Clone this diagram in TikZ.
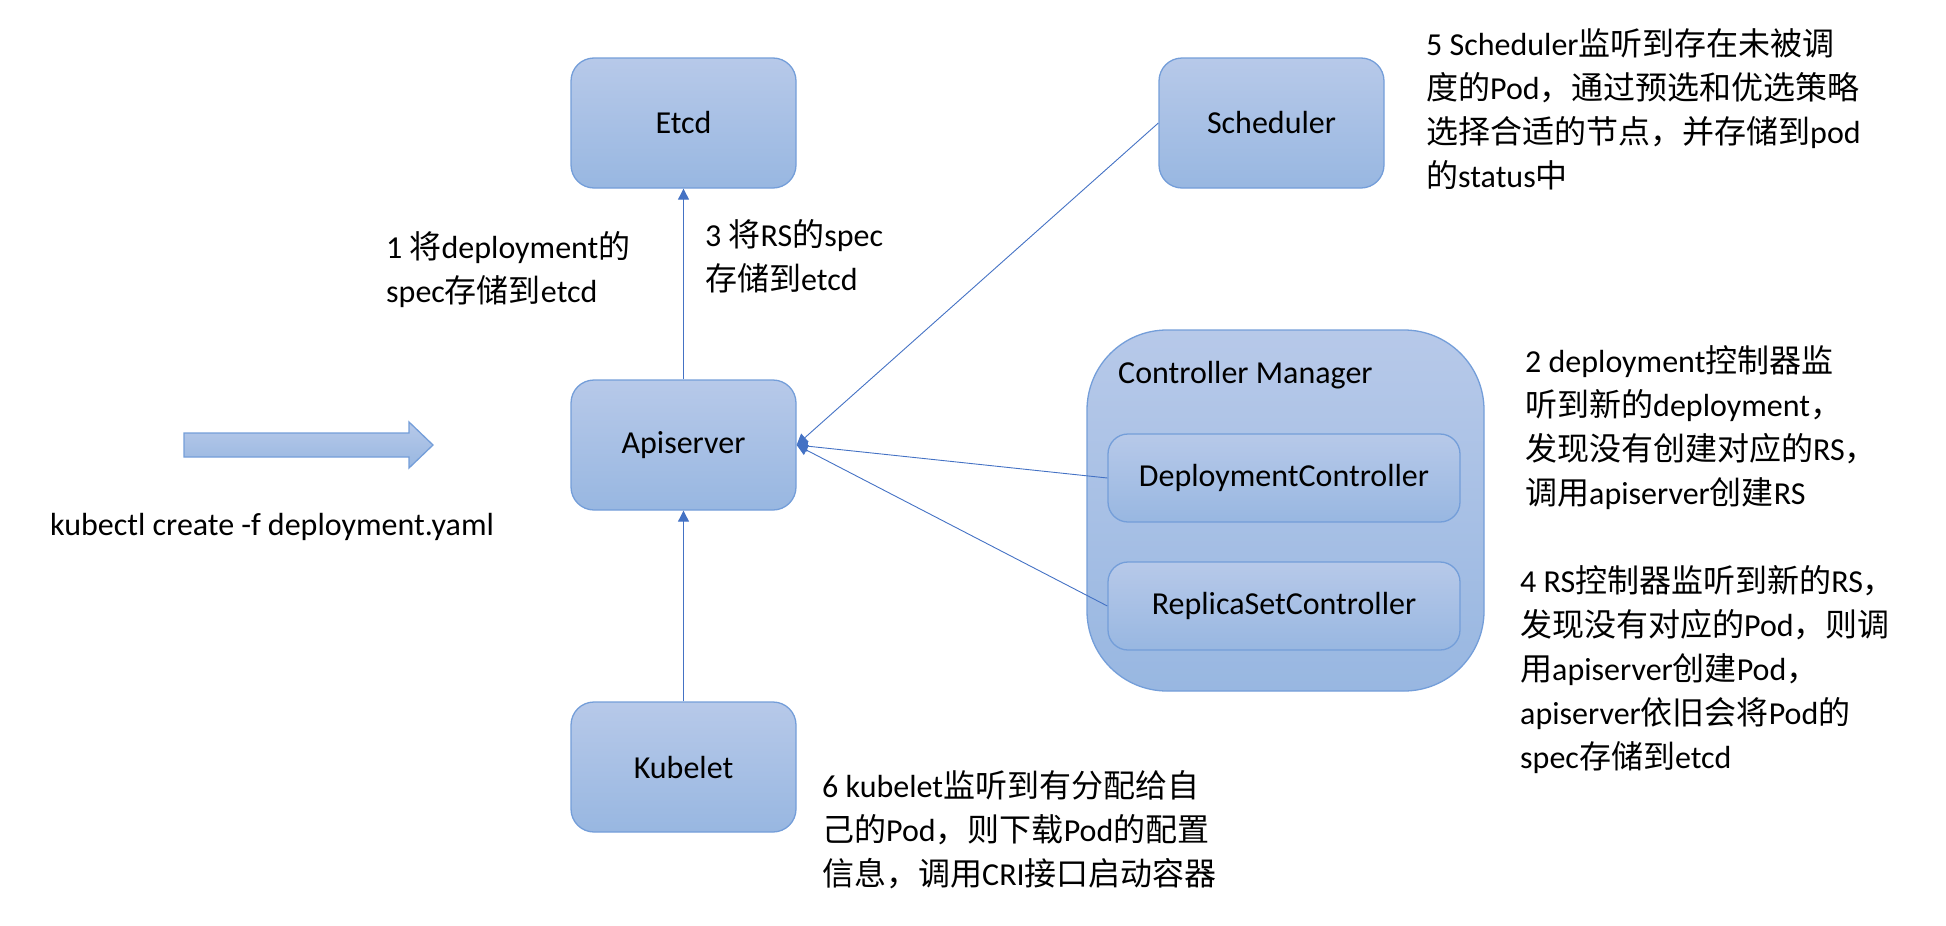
\documentclass[tikz,border=0pt]{standalone}
\usepackage{fontspec}
\setmainfont{Carlito}
\newfontfamily\cjkfont{Noto Sans CJK SC}
\newcommand\zh[1]{{\cjkfont #1}}
\usetikzlibrary{arrows.meta}
\definecolor{boxtop}{RGB}{183,201,233}
\definecolor{boxbot}{RGB}{152,183,225}
\definecolor{boxline}{RGB}{116,158,217}
\definecolor{linkc}{RGB}{68,114,196}
\begin{document}
\begin{tikzpicture}[x=1pt,y=-1pt,
  every node/.style={font=\fontsize{32}{44}\selectfont},
  compbox/.style={draw=boxline, line width=1.3pt, rounded corners=23pt,
    top color=boxtop, bottom color=boxbot, minimum width=225pt,
    minimum height=130pt, inner sep=0pt},
  subbox/.style={compbox, rounded corners=20pt, minimum width=352pt, minimum height=88pt},
  container/.style={compbox, rounded corners=80pt, minimum width=397pt, minimum height=361pt},
  note/.style={anchor=west, align=left, inner sep=0pt},
  link/.style={draw=linkc, line width=0.9pt, -{Triangle[length=11pt,width=11pt]}}
]
\useasboundingbox (0,0) rectangle (1946,926);
% big input arrow
\draw[draw=boxline, line width=1.3pt, top color=boxtop, bottom color=boxbot]
  (184,433) -- (409,433) -- (409,422) -- (433,445) -- (409,468) -- (409,457) -- (184,457) -- cycle;
\node[note] (cmd) at (50,527) {kubectl create -f deployment.yaml};

\node[compbox] (etcd) at (683.5,123) {Etcd};
\node[compbox] (api) at (683.5,445) {Apiserver};
\node[compbox] (kubelet) at (683.5,767) {Kubelet};
\node[compbox] (sched) at (1271.5,123) {Scheduler};

\node[container] (cm) at (1285.5,510.5) {};
\node[note] (cmtitle) at (1118,375) {Controller Manager};
\node[subbox] (dc) at (1284,478) {DeploymentController};
\node[subbox] (rsc) at (1284,606) {ReplicaSetController};

\draw[link] (api.north) -- (etcd.south);
\draw[link] (kubelet.north) -- (api.south);
\draw[link] (sched.west) -- (api.east);
\draw[link] (dc.west) -- (api.east);
\draw[link] (rsc.west) -- (api.east);

\node[note] (n1) at (386,270) {1 \zh{将}deployment\zh{的}\\spec\zh{存储到}etcd};
\node[note] (n3) at (705,256) {3 \zh{将}RS\zh{的}spec\\\zh{存储到}etcd};
\node[note] (n5) at (1426,109) {5 Scheduler\zh{监听到存在未被调}\\\zh{度的}Pod\zh{，通过预选和优选策略}\\\zh{选择合适的节点，并存储到}pod\\\zh{的}status\zh{中}};
\node[note] (n2) at (1525,428) {2 deployment\zh{控制器监}\\\zh{听到新的}deployment\zh{，}\\\zh{发现没有创建对应的}RS\zh{，}\\\zh{调用}apiserver\zh{创建}RS};
\node[note] (n4) at (1520,670) {4 RS\zh{控制器监听到新的}RS\zh{，}\\\zh{发现没有对应的}Pod\zh{，则调}\\\zh{用}apiserver\zh{创建}Pod\zh{，}\\apiserver\zh{依旧会将}Pod\zh{的}\\spec\zh{存储到}etcd};
\node[note] (n6) at (822,830) {6 kubelet\zh{监听到有分配给自}\\\zh{己的}Pod\zh{，则下载}Pod\zh{的配置}\\\zh{信息，调用}CRI\zh{接口启动容器}};
\end{tikzpicture}
\end{document}
